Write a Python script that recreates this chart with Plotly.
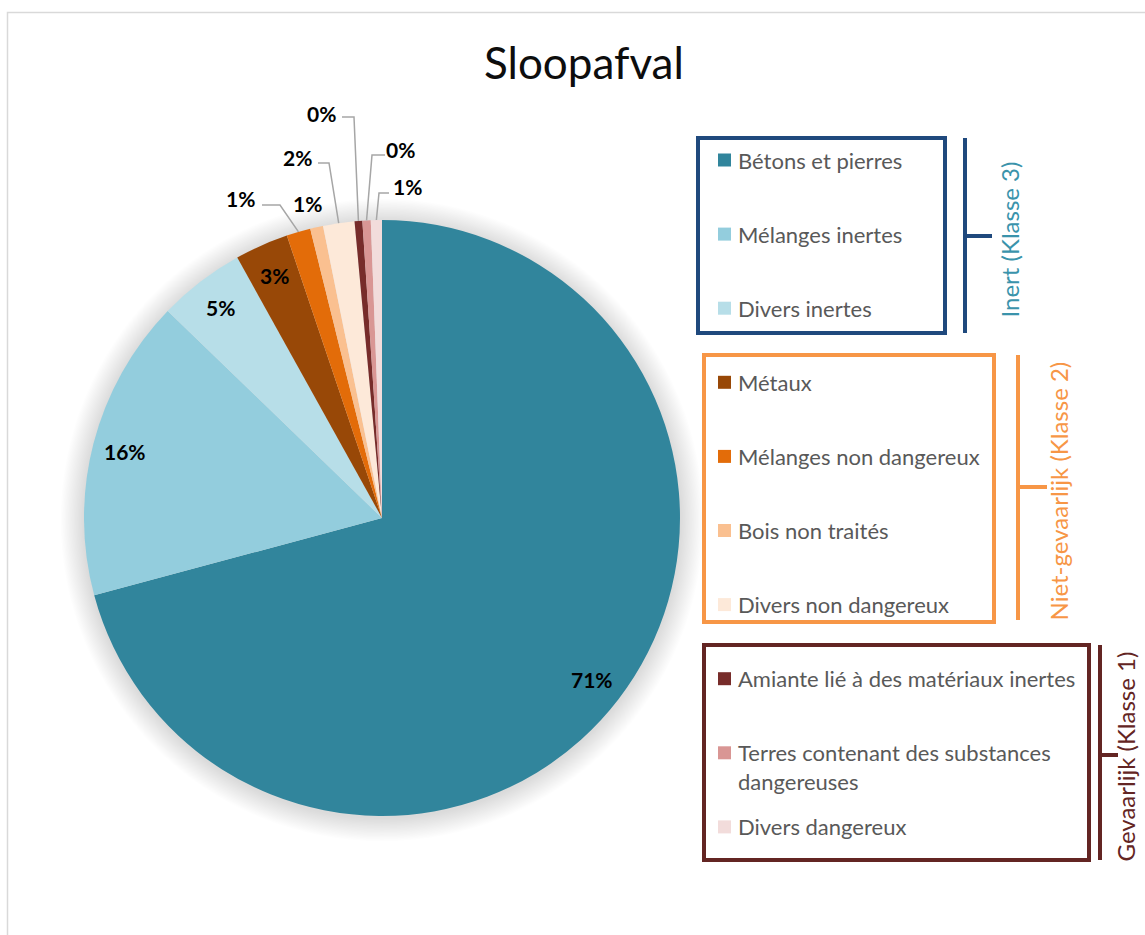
import math
import plotly.graph_objects as go

# ---- data -------------------------------------------------------------
categories = [
    "Bétons et pierres",
    "Mélanges inertes",
    "Divers inertes",
    "Métaux",
    "Mélanges non dangereux",
    "Bois non traités",
    "Divers non dangereux",
    "Amiante lié à des matériaux inertes",
    "Terres contenant des substances dangereuses",
    "Divers dangereux",
]
shares = [70.8, 16.4, 4.7, 2.9, 1.3, 0.7, 1.7, 0.42, 0.45, 0.6]
colors = [
    "#31859C", "#93CDDD", "#B7DEE8",
    "#984807", "#E36C09", "#FAC090", "#FDE9D9",
    "#772C2A", "#D99694", "#F2DCDB",
]
groups = ["Inert (Klasse 3)", "Niet-gevaarlijk (Klasse 2)", "Gevaarlijk (Klasse 1)"]
group_sizes = [3, 4, 3]
title_text = "Sloopafval"

# ---- layout constants (pixels) ---------------------------------------
W, H = 1145, 935
CX, CY, R = 382, 518, 298
FONT = "Lato, Calibri, 'Open Sans', sans-serif"


def px(x):
    return x / W


def py(y):
    return 1 - y / H


def path(points):
    return "M " + " L ".join(f"{px(x):.5f},{py(y):.5f}" for x, y in points)


def note(text, x, y, font, **kw):
    d = dict(text=text, x=px(x), y=py(y), xref="paper", yref="paper",
             xanchor="center", yanchor="middle", showarrow=False, font=font)
    d.update(kw)
    return d


total = sum(shares)
# mid angle (clockwise from 12 o'clock) of each slice
mid_angles = []
acc = 0.0
for v in shares:
    mid_angles.append((acc + v / 2) / total * 360)
    acc += v


def polar(angle_deg, r):
    a = math.radians(angle_deg)
    return CX + r * math.sin(a), CY - r * math.cos(a)


fig = go.Figure(
    go.Pie(
        labels=categories,
        values=shares,
        sort=False,
        direction="clockwise",
        rotation=0,
        marker=dict(colors=colors, line=dict(width=0)),
        textinfo="none",
        hovertemplate="%{label}: %{percent:.0%}<extra></extra>",
        domain=dict(x=[px(CX - R), px(CX + R)], y=[py(CY + R), py(CY - R)]),
    )
)

shapes = []
annotations = []

# chart frame
shapes.append(dict(type="rect", xref="paper", yref="paper",
                   x0=px(7.5), x1=px(1160), y0=py(950), y1=py(12.5),
                   line=dict(color="#D9D9D9", width=1.5), layer="below"))

# soft shadow around the pie
for k in range(18):
    rr = R + 1.3 * (k + 1)
    shapes.append(dict(type="circle", xref="paper", yref="paper",
                       x0=px(CX - rr), x1=px(CX + rr),
                       y0=py(CY + 2 + rr), y1=py(CY + 2 - rr),
                       fillcolor="rgba(0,0,0,0.0075)", line=dict(width=0),
                       layer="below"))

# title
annotations.append(note(title_text, 584, 62, dict(family=FONT, size=44, color="#0D0D0D")))

# percentage labels
pct = [v / total * 100 for v in shares]
label_font = dict(family=FONT, size=21, color="#000000")
inside = [0, 1, 2, 3]
for i in inside:
    x, y = polar(mid_angles[i], 0.89 * R)
    annotations.append(note(f"<b>{pct[i]:.0f}%</b>", x, y, label_font))

# outside labels: text position, then leader line start and elbow
outside = {
    4: ((240, 198), (262, 205), (280, 205)),
    5: ((307, 204), None, None),
    6: ((297, 157), (318, 163), (329, 163)),
    7: ((321, 113), (342, 117), (354, 117)),
    8: ((400, 150), (385, 155), (372, 155)),
    9: ((407, 187), (389, 193), (379, 193)),
}
for i, (lab, start, elbow) in outside.items():
    annotations.append(note(f"<b>{pct[i]:.0f}%</b>", lab[0], lab[1], label_font))
    if start is not None:
        end = polar(mid_angles[i], R)
        shapes.append(dict(type="path", xref="paper", yref="paper",
                           path=path([start, elbow, end]),
                           line=dict(color="#A6A6A6", width=1.5)))

# grouped legend
boxes = [(698, 138, 945, 333), (704, 355, 994, 622), (704, 645, 1089, 860)]
box_colors = ["#1F497D", "#F79646", "#632523"]
group_text_colors = ["#3A93AB", "#F79646", "#632523"]
brackets = [(965, 138, 333, 236, 992), (1018, 355, 620, 487, 1047), (1100, 645, 860, 755, 1118)]
group_label_x = [1009, 1058, 1125]

ITEM_Y0, ITEM_STEP = 160, 74.1
SW_X0, SW_SIZE, TXT_X = 718, 13, 736
item_font = dict(family=FONT, size=22, color="#595959")


def wrap(text, width=36):
    if len(text) <= width:
        return [text]
    cut = text.rfind(" ", 0, width)
    return [text[:cut], text[cut + 1:]]


for k, name in enumerate(categories):
    yc = ITEM_Y0 + ITEM_STEP * k
    shapes.append(dict(type="rect", xref="paper", yref="paper",
                       x0=px(SW_X0), x1=px(SW_X0 + SW_SIZE),
                       y0=py(yc + SW_SIZE / 2), y1=py(yc - SW_SIZE / 2),
                       fillcolor=colors[k], line=dict(width=0)))
    for j, line in enumerate(wrap(name)):
        annotations.append(note(line, TXT_X, yc + 29 * j, item_font, xanchor="left"))

for g, name in enumerate(groups):
    x0, y0, x1, y1 = boxes[g]
    shapes.append(dict(type="rect", xref="paper", yref="paper",
                       x0=px(x0), x1=px(x1), y0=py(y1), y1=py(y0),
                       line=dict(color=box_colors[g], width=4)))
    bx, by0, by1, ty, tx = brackets[g]
    shapes.append(dict(type="line", xref="paper", yref="paper",
                       x0=px(bx), x1=px(bx), y0=py(by0), y1=py(by1),
                       line=dict(color=box_colors[g], width=4)))
    shapes.append(dict(type="line", xref="paper", yref="paper",
                       x0=px(bx), x1=px(tx), y0=py(ty), y1=py(ty),
                       line=dict(color=box_colors[g], width=4)))
    annotations.append(note(name, group_label_x[g], (by0 + by1) / 2 + 4,
                            dict(family=FONT, size=24, color=group_text_colors[g]),
                            textangle=-90))

fig.update_layout(
    width=W, height=H,
    margin=dict(l=0, r=0, t=0, b=0),
    paper_bgcolor="white",
    plot_bgcolor="white",
    showlegend=False,
    shapes=shapes,
    annotations=annotations,
)

fig.write_html("out.html")
